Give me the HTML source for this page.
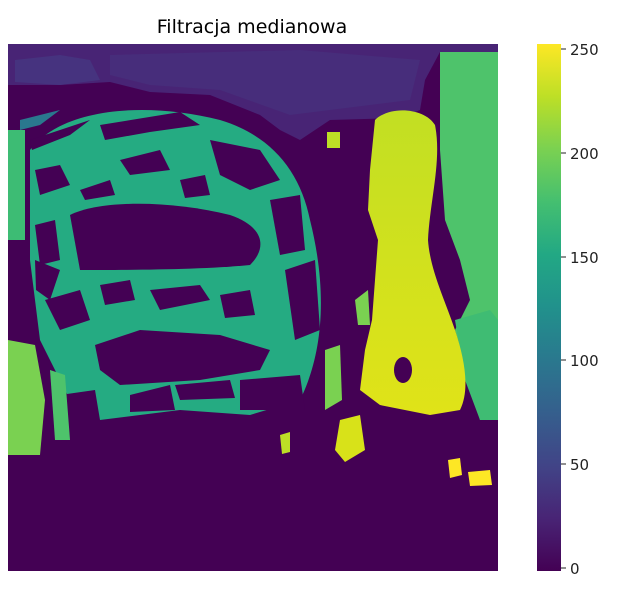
<!DOCTYPE html>
<html><head><meta charset="utf-8"><style>
body{margin:0;background:#fff;width:622px;height:589px;overflow:hidden;font-family:"DejaVu Sans","Liberation Sans",sans-serif}
</style></head><body>
<svg width="622" height="589" viewBox="0 0 622 589">
<defs>
<linearGradient id="vir" x1="0" y1="1" x2="0" y2="0">
<stop offset="0" stop-color="#440154"/><stop offset="0.1" stop-color="#482475"/><stop offset="0.2" stop-color="#414487"/><stop offset="0.3" stop-color="#355f8d"/><stop offset="0.4" stop-color="#2a788e"/><stop offset="0.5" stop-color="#21918c"/><stop offset="0.6" stop-color="#22a884"/><stop offset="0.7" stop-color="#44bf70"/><stop offset="0.8" stop-color="#7ad151"/><stop offset="0.9" stop-color="#bddf26"/><stop offset="1" stop-color="#fde725"/>
</linearGradient>
<clipPath id="ic"><rect x="8" y="44" width="490" height="527"/></clipPath>
<linearGradient id="yel" x1="0" y1="0" x2="0" y2="1"><stop offset="0" stop-color="#c2df23"/><stop offset="1" stop-color="#e0e318"/></linearGradient>
</defs>
<text x="252" y="33" font-size="19" text-anchor="middle" fill="#000">Filtracja medianowa</text>
<g clip-path="url(#ic)">
<rect x="8" y="44" width="490" height="527" fill="#440154"/>
<path d="M8,44 H498 V52 H440 L425,80 L420,110 L400,118 L330,120 L300,140 L280,130 L260,115 L210,95 L150,92 L110,82 L60,85 L8,85 Z" fill="#482475"/>
<path d="M110,55 L300,50 L420,60 L410,100 L330,110 L290,115 L220,90 L150,85 L110,75 Z" fill="#472d7b"/>
<path d="M15,60 L60,55 L90,60 L100,80 L60,85 L15,82 Z" fill="#46337f"/>
<path d="M20,120 L60,110 L40,125 L20,130 Z" fill="#2a788e"/>
<path d="M30,150 C60,110 140,100 220,120 C270,135 300,170 310,220 C330,300 320,360 300,400 L250,415 L180,410 L100,420 L70,400 L40,340 L30,260 Z" fill="#25ab82"/>
<g fill="#440154">
<path d="M70,215 C100,200 170,200 230,215 C260,225 270,245 250,265 C200,270 120,270 80,270 Z"/>
<path d="M95,345 L140,330 L220,335 L270,350 L260,370 L200,380 L120,385 L100,370 Z"/>
<path d="M210,140 L260,150 L280,180 L250,190 L220,175 Z"/>
<path d="M35,170 L60,165 L70,185 L40,195 Z"/>
<path d="M120,160 L160,150 L170,170 L130,175 Z"/>
<path d="M285,270 L315,260 L320,330 L295,340 Z"/>
<path d="M45,300 L80,290 L90,320 L60,330 Z"/>
<path d="M150,290 L200,285 L210,300 L160,310 Z"/>
<path d="M240,380 L300,375 L305,410 L240,410 Z"/>
<path d="M130,395 L170,385 L175,410 L130,412 Z"/>
<path d="M30,140 L90,120 L70,135 L32,150 Z"/>
<path d="M100,125 L180,112 L200,125 L150,132 L105,140 Z"/>
<path d="M80,190 L110,180 L115,195 L85,200 Z"/>
<path d="M180,180 L205,175 L210,195 L185,198 Z"/>
<path d="M270,200 L300,195 L305,250 L280,255 Z"/>
<path d="M35,225 L55,220 L60,260 L40,265 Z"/>
<path d="M100,285 L130,280 L135,300 L105,305 Z"/>
<path d="M220,295 L250,290 L255,315 L225,318 Z"/>
<path d="M35,260 L60,270 L50,300 L36,290 Z"/>
<path d="M175,385 L230,380 L235,398 L180,400 Z"/>
<path d="M60,395 L95,390 L100,420 L65,420 Z"/>
</g>
<path d="M440,52 H498 V420 L480,420 L470,380 L455,330 L470,300 L460,260 L445,220 L440,150 Z" fill="#4ec36b"/>
<path d="M455,320 L490,310 L498,320 V420 L480,420 L465,380 Z" fill="#3fbc73"/>
<path d="M8,130 H25 V240 H8 Z" fill="#3dbc74"/>
<path d="M8,340 L35,345 L45,400 L40,455 H8 Z" fill="#7ad151"/>
<path d="M50,370 L65,375 L70,440 L55,440 Z" fill="#4ec36b"/>
<path d="M375,120 C390,105 425,108 435,125 C442,160 430,200 428,240 C430,270 445,300 455,330 C465,360 470,390 460,410 L430,415 L380,405 L360,390 L365,350 L372,320 L375,280 L378,240 L368,210 L370,170 Z" fill="url(#yel)"/>
<ellipse cx="403" cy="370" rx="9" ry="13" fill="#440154"/>
<path d="M325,350 L340,345 L342,400 L325,410 Z" fill="#7ad151"/>
<path d="M327,132 H340 V148 H327 Z" fill="#bddf26"/>
<path d="M340,420 L360,415 L365,450 L345,462 L335,450 Z" fill="#d8e219"/>
<path d="M448,460 L460,458 L462,475 L450,478 Z" fill="#fde725"/>
<path d="M468,472 L490,470 L492,485 L470,486 Z" fill="#fde725"/>
<path d="M280,435 L290,432 L290,452 L282,454 Z" fill="#bddf26"/>
<path d="M355,300 L368,290 L370,325 L358,325 Z" fill="#7ad151"/>
</g>
<rect x="537" y="44" width="24" height="527" fill="url(#vir)"/>
<g font-size="15" fill="#222">
<g stroke="#222"><line x1="561" x2="566" y1="568" y2="568"/><line x1="561" x2="566" y1="464" y2="464"/><line x1="561" x2="566" y1="360" y2="360"/><line x1="561" x2="566" y1="257" y2="257"/><line x1="561" x2="566" y1="153" y2="153"/><line x1="561" x2="566" y1="49" y2="49"/></g>
<text x="570" y="574">0</text><text x="570" y="470">50</text><text x="570" y="366">100</text><text x="570" y="263">150</text><text x="570" y="159">200</text><text x="570" y="55">250</text>
</g>
</svg>
</body></html>
